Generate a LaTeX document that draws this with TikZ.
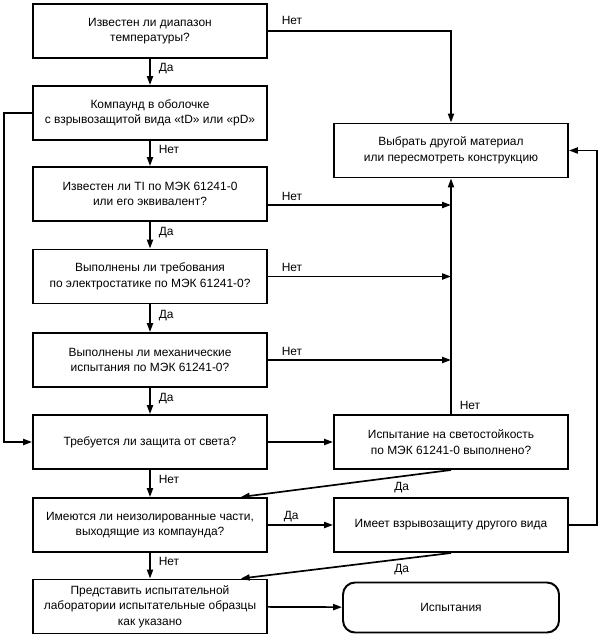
\documentclass[tikz,border=0pt]{standalone}
\usepackage{fontspec}
\setmainfont{Liberation Sans}
\usetikzlibrary{positioning, arrows.meta, calc}

\begin{document}
\begin{tikzpicture}[
  box/.style={rectangle, draw=black, line width=1.4pt, minimum width=5.85cm, minimum height=1.35cm, align=center, inner sep=2pt, font=\fontsize{8.5}{11}\selectfont},
  endbox/.style={box, rounded corners=0.3cm, minimum width=5.4cm, minimum height=1.25cm},
  flow/.style={-{Triangle[length=2.2mm, width=1.5mm]}, line width=1.2pt},
  line/.style={-, line width=1.2pt},
  lbl/.style={font=\fontsize{8.5}{11}\selectfont, inner sep=0pt},
]

\useasboundingbox (0,0) rectangle (15.05,-16);

% Loop lines
\coordinate (lloop) at (0.1,0);
\coordinate (rloop) at (14.925,0);

% =========================
% Left column (questions)
% =========================
\node[box] (b1) at (3.75,-0.775)  {Известен ли диапазон\\температуры?};
\node[box] (b2) at (3.75,-2.825)  {Компаунд в оболочке\\с взрывозащитой вида «tD» или «pD»};
\node[box] (b3) at (3.75,-4.85)   {Известен ли TI по МЭК 61241-0\\или его эквивалент?};
\node[box] (b4) at (3.75,-6.9125) {Выполнены ли требования\\по электростатике по МЭК 61241-0?};
\node[box] (b5) at (3.75,-9.0)    {Выполнены ли механические\\испытания по МЭК 61241-0?};
\node[box] (b6) at (3.75,-11.05)  {Требуется ли защита от света?};
\node[box] (b7) at (3.75,-13.125) {Имеются ли неизолированные части,\\выходящие из компаунда?};
\node[box] (b8) at (3.75,-15.1625) {Представить испытательной\\лаборатории испытательные образцы\\как указано};

% =========================
% Right column
% =========================
\node[box] (r1) at (11.275,-3.7625) {Выбрать другой материал\\или пересмотреть конструкцию};
\node[box] (r2) at (11.275,-11.05)  {Испытание на светостойкость\\по МЭК 61241-0 выполнено?};
\node[box] (r3) at (11.275,-13.125) {Имеет взрывозащиту другого вида};
\node[endbox] (r4) at (11.275,-15.1875) {Испытания};

% Main column arrows
\draw[flow] (b1) -- (b2) node[lbl, midway, anchor=base west, xshift=0.2cm] {Да};
\draw[flow] (b2) -- (b3) node[lbl, midway, anchor=base west, xshift=0.2cm] {Нет};
\draw[flow] (b3) -- (b4) node[lbl, midway, anchor=base west, xshift=0.2cm] {Да};
\draw[flow] (b4) -- (b5) node[lbl, midway, anchor=base west, xshift=0.2cm] {Да};
\draw[flow] (b5) -- (b6) node[lbl, midway, anchor=base west, xshift=0.2cm] {Да};
\draw[flow] (b6) -- (b7) node[lbl, midway, anchor=base west, xshift=0.2cm] {Нет};
\draw[flow] (b7) -- (b8) node[lbl, midway, anchor=base west, xshift=0.2cm] {Нет};

% "Нет" branches to r1
\draw[flow] (b1.east) -| (r1.north) node[lbl, pos=0, anchor=base west, xshift=0.325cm, yshift=0.15cm] {Нет};
\coordinate (b3out) at ([yshift=-0.275cm]b3.east);
\draw[flow] (b3out) -- (b3out -| r1.south) node[lbl, pos=0, anchor=base west, xshift=0.325cm, yshift=0.12cm] {Нет};
\draw[flow] (b4.east) -- (b4.east -| r1.south) node[lbl, pos=0, anchor=base west, xshift=0.325cm, yshift=0.12cm] {Нет};
\draw[flow] (b5.east) -- (b5.east -| r1.south) node[lbl, pos=0, anchor=base west, xshift=0.325cm, yshift=0.12cm] {Нет};
\draw[flow] (r2.north) -- (r1.south) node[lbl, pos=0, anchor=base west, xshift=0.2cm, yshift=0.125cm] {Нет};

% Left loop
\draw[flow] (b2.west) -- (b2.west -| lloop) |- (b6.west);

% Right loop
\draw[flow] (r3.east) -- (r3.east -| rloop) |- (r1.east);

% Across
\draw[flow] (b6) -- (r2);
\draw[flow] (b7) -- (r3) node[lbl, pos=0, anchor=base west, xshift=0.375cm, yshift=0.15cm] {Да};
\draw[flow] (b8) -- (r4);

% Diagonal "Да" returns
\draw[flow] (r2.south) -- ($(b7.north)!0.77!(b7.north east)$);
\node[lbl, anchor=base west] (d1) at (9.85,-12.25) {Да};
\draw[flow] (r3.south) -- ($(b8.north)!0.77!(b8.north east)$);
\node[lbl, anchor=base west] (d2) at (9.85,-14.3) {Да};

\end{tikzpicture}
\end{document}
